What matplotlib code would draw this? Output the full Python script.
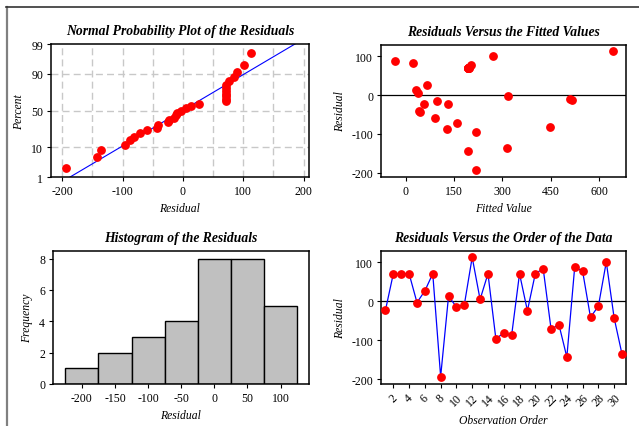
import numpy as np
import matplotlib.pyplot as plt
from matplotlib.lines import Line2D
from statistics import NormalDist

# residuals in observation order
residuals = [-23, 71, 71, 71, -3, 27, 71, -193, 13, -14,
             -9, 113, 5, 71, -96, -81, -87, 71, -24, 71,
             84, -71, -60, -143, 89, 77, -41, -12, 101, -43,
             -136]
# fitted values, same order
fitted = [56, 192, 193, 194, 317, 66, 195, 217, 32, 97,
          511, 644, 39, 196, 217, 449, 127, 192, 131, 194,
          23, 158, 91, 192, -35, 204, 42, 515, 272, 44,
          313]
observation = list(range(1, len(residuals) + 1))

prob_ticks = [1, 10, 50, 90, 99]
hist_edges = [-225, -175, -125, -75, -25, 25, 75, 125]
hist_ticks = [-200, -150, -100, -50, 0, 50, 100]

plt.rcParams['font.family'] = ['Liberation Serif', 'DejaVu Serif']
plt.rcParams['font.size'] = 8.5
plt.rcParams['axes.unicode_minus'] = False
plt.rcParams['axes.linewidth'] = 1.1
plt.rcParams['xtick.major.size'] = 3
plt.rcParams['ytick.major.size'] = 3
plt.rcParams['xtick.major.pad'] = 2.5
plt.rcParams['ytick.major.pad'] = 2.5

title_kw = dict(fontsize=9.8, fontweight='bold', style='italic', pad=7)
label_kw = dict(fontsize=8.4, style='italic')
RED = '#ff0000'
BLUE = '#0000ff'

fig = plt.figure(figsize=(6.39, 4.27), dpi=100)

W, H = 639, 427
def box(l, t, r, b):
    return [l / W, 1 - b / H, (r - l) / W, (b - t) / H]

ax1 = fig.add_axes(box(50.7, 45, 309, 178.3))
ax2 = fig.add_axes(box(380.7, 45.7, 626, 178.3))
ax3 = fig.add_axes(box(52.7, 251.7, 309, 385))
ax4 = fig.add_axes(box(380.7, 251.7, 626, 385))

# normal probability plot
nd = NormalDist()
res = np.array(residuals, dtype=float)
srt = np.sort(res)
n = len(srt)
ranks = np.arange(1, n + 1)
z = np.array([nd.inv_cdf((i - 0.3) / (n + 0.4)) for i in ranks])
mu, sd = res.mean(), res.std(ddof=1)
zz = np.linspace(-3, 3, 50)
zt = [nd.inv_cdf(p / 100) for p in prob_ticks]
for x in range(-200, 201, 50):
    ax1.axvline(x, color='#c8c8c8', lw=1, ls=(0, (5, 3)), zorder=0)
for y in zt[1:-1]:
    ax1.axhline(y, color='#c8c8c8', lw=1, ls=(0, (5, 3)), zorder=0)
ax1.plot(mu + sd * zz, zz, color=BLUE, lw=0.8, zorder=2)
ax1.plot(srt, z, 'o', color=RED, ms=5.3, zorder=3)
ax1.set_xlim(-219, 209)
ax1.set_ylim(zt[0], zt[-1])
ax1.set_yticks(zt)
ax1.set_yticklabels([str(p) for p in prob_ticks])
ax1.set_xticks([-200, -100, 0, 100, 200])
ax1.set_xlabel('Residual', **label_kw)
ax1.set_ylabel('Percent', **label_kw)
ax1.set_title('Normal Probability Plot of the Residuals', **title_kw)

# residuals versus fitted
ax2.axhline(0, color='black', lw=0.9, zorder=1)
ax2.plot(fitted, residuals, 'o', color=RED, ms=5.3, zorder=3)
ax2.set_xlim(-78, 684)
ax2.set_ylim(-212, 130)
ax2.set_xticks([0, 150, 300, 450, 600])
ax2.set_yticks([-200, -100, 0, 100])
ax2.set_xlabel('Fitted Value', **label_kw)
ax2.set_ylabel('Residual', **label_kw)
ax2.set_title('Residuals Versus the Fitted Values', **title_kw)

# histogram
ax3.hist(residuals, bins=hist_edges, color='#c0c0c0', edgecolor='black', lw=1)
ax3.set_xlim(-244, 143)
ax3.set_ylim(0, 8.5)
ax3.set_xticks(hist_ticks)
ax3.set_yticks([0, 2, 4, 6, 8])
ax3.set_xlabel('Residual', **label_kw)
ax3.set_ylabel('Frequency', **label_kw)
ax3.set_title('Histogram of the Residuals', **title_kw)

# residuals versus order
ax4.axhline(0, color='black', lw=0.9, zorder=1)
ax4.plot(observation, residuals, '-', color=BLUE, lw=0.9, zorder=2)
ax4.plot(observation, residuals, 'o', color=RED, ms=5.3, zorder=3)
ax4.set_xlim(0.4, 31.5)
ax4.set_ylim(-212, 130)
ax4.set_xticks(range(2, 31, 2))
ax4.set_xticklabels([str(t) for t in range(2, 31, 2)], rotation=45)
ax4.set_yticks([-200, -100, 0, 100])
ax4.set_xlabel('Observation Order', **label_kw)
ax4.set_ylabel('Residual', **label_kw)
ax4.set_title('Residuals Versus the Order of the Data', **title_kw)

# window border along top and left
fig.add_artist(Line2D([6.5 / W, 6.5 / W], [0, 1 - 8 / H], color='#808080', lw=1.6))
fig.add_artist(Line2D([6 / W, 1], [1 - 8 / H, 1 - 8 / H], color='#333333', lw=1.2))

fig.savefig('out.png', dpi=100)
